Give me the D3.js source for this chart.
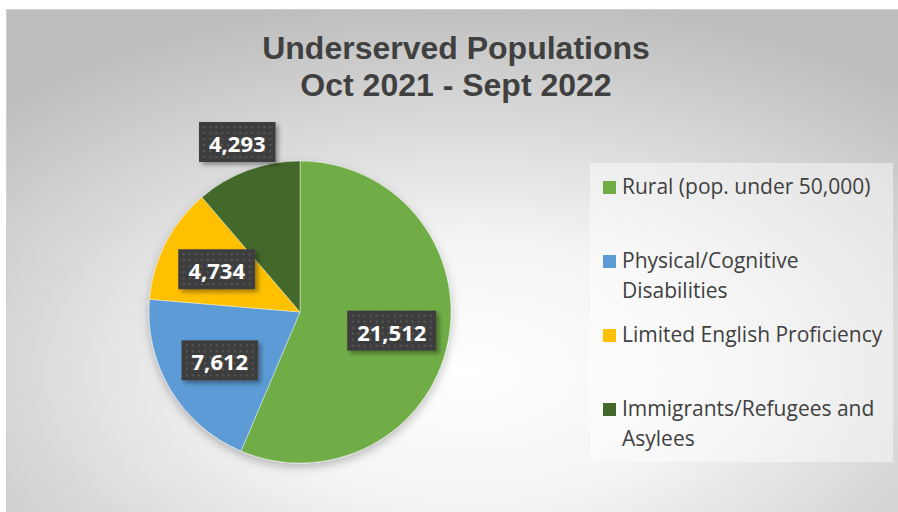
<!DOCTYPE html>
<html><head><meta charset="utf-8">
<script src="https://cdn.jsdelivr.net/npm/d3@7"></script>
<style>html,body{margin:0;padding:0;background:#fff;}svg{display:block;}</style>
</head><body>
<script>
const categories = ["Rural (pop. under 50,000)", "Physical/Cognitive Disabilities", "Limited English Proficiency", "Immigrants/Refugees and Asylees"];
const legendLines = [["Rural (pop. under 50,000)"], ["Physical/Cognitive", "Disabilities"], ["Limited English Proficiency"], ["Immigrants/Refugees and", "Asylees"]];
const values = [21512, 7612, 4734, 4293];
const colors = ["#70AD47", "#5B9BD5", "#FFC000", "#43682B"];
const titleLines = ["Underserved Populations", "Oct 2021 - Sept 2022"];

const W = 898, H = 512;
const svg = d3.select("body").append("svg").attr("width", W).attr("height", H);
const defs = svg.append("defs");

const grad = defs.append("radialGradient").attr("id", "bg")
  .attr("cx", "0.52").attr("cy", "0.72").attr("r", "0.75");
grad.append("stop").attr("offset", "0").attr("stop-color", "#ffffff");
grad.append("stop").attr("offset", "0.35").attr("stop-color", "#f4f4f4");
grad.append("stop").attr("offset", "1").attr("stop-color", "#bdbdbd");

const pat = defs.append("pattern").attr("id", "dots").attr("patternUnits", "userSpaceOnUse")
  .attr("width", 6).attr("height", 6);
pat.append("rect").attr("width", 6).attr("height", 6).attr("fill", "#3e3e3e");
pat.append("rect").attr("x", 2).attr("y", 2).attr("width", 2).attr("height", 2).attr("fill", "#575757");

const sh = defs.append("filter").attr("id", "pieShadow").attr("x", "-20%").attr("y", "-20%").attr("width", "140%").attr("height", "140%");
sh.append("feDropShadow").attr("dx", 0).attr("dy", 4).attr("stdDeviation", 5).attr("flood-color", "#000").attr("flood-opacity", 0.25);
const sh2 = defs.append("filter").attr("id", "boxShadow").attr("x", "-20%").attr("y", "-20%").attr("width", "150%").attr("height", "160%");
sh2.append("feDropShadow").attr("dx", 3).attr("dy", 3).attr("stdDeviation", 2).attr("flood-color", "#000").attr("flood-opacity", 0.35);

// chart area
svg.append("rect").attr("x", 6.5).attr("y", 9.5).attr("width", W - 6).attr("height", H - 9)
  .attr("fill", "url(#bg)").attr("stroke", "#d0d0d0").attr("stroke-width", 1);

// title
svg.append("text").attr("x", 456).attr("y", 59).attr("text-anchor", "middle")
  .attr("font-family", "Liberation Sans, Arial, sans-serif").attr("font-weight", "bold")
  .attr("font-size", 32).attr("fill", "#404040")
  .selectAll("tspan").data(titleLines).join("tspan")
  .attr("x", 456).attr("dy", (d, i) => i === 0 ? 0 : 37).text(d => d);

// pie
const cx = 300, cy = 312, R = 151;
const pie = d3.pie().sort(null).value(d => d)(values);
const arc = d3.arc().innerRadius(0).outerRadius(R);
const g = svg.append("g").attr("transform", `translate(${cx},${cy})`);
const slices = g.append("g").attr("filter", "url(#pieShadow)");
slices.selectAll("path").data(pie).join("path")
  .attr("d", arc).attr("fill", (d, i) => colors[i])
  .attr("stroke", "rgba(255,255,255,0.5)").attr("stroke-width", 0.8);

// labels
const inArc = d3.arc().innerRadius(R * 0.62).outerRadius(R * 0.62);
const outArc = d3.arc().innerRadius(R * 1.2).outerRadius(R * 1.2);
const fmt = d3.format(",");
const lg = g.append("g");
pie.forEach((d, i) => {
  const small = (d.endAngle - d.startAngle) < 0.74;
  const [x, y] = (small ? outArc : inArc).centroid(d);
  const grp = lg.append("g").attr("transform", `translate(${x},${y})`);
  const rect = grp.append("rect").attr("fill", "url(#dots)").attr("filter", "url(#boxShadow)");
  const t = grp.append("text").attr("text-anchor", "middle").attr("dominant-baseline", "central")
    .attr("font-family", "Open Sans, sans-serif").attr("font-weight", "bold").attr("font-size", 22)
    .attr("fill", "#ffffff").attr("y", 1).text(fmt(d.data));
  const bb = t.node().getBBox();
  const bw = bb.width + 20, bh = 40;
  rect.attr("x", -bw / 2).attr("y", -bh / 2).attr("width", bw).attr("height", bh);
});

// legend
const legX = 590, legY = 163, legW = 303, legH = 299;
svg.append("rect").attr("x", legX).attr("y", legY).attr("width", legW).attr("height", legH)
  .attr("fill", "#ffffff").attr("fill-opacity", 0.45);
const leg = svg.append("g");
legendLines.forEach((lines, i) => {
  const top = legY + 8 + i * 74;
  leg.append("rect").attr("x", 603).attr("y", top + 10).attr("width", 13).attr("height", 13).attr("fill", colors[i]);
  leg.append("text").attr("font-family", "Open Sans, sans-serif").attr("font-size", 21).attr("fill", "#404040")
    .selectAll("tspan").data(lines).join("tspan")
    .attr("x", 622).attr("y", (d, j) => top + 23 + j * 30).text(d => d);
});
</script>
</body></html>
